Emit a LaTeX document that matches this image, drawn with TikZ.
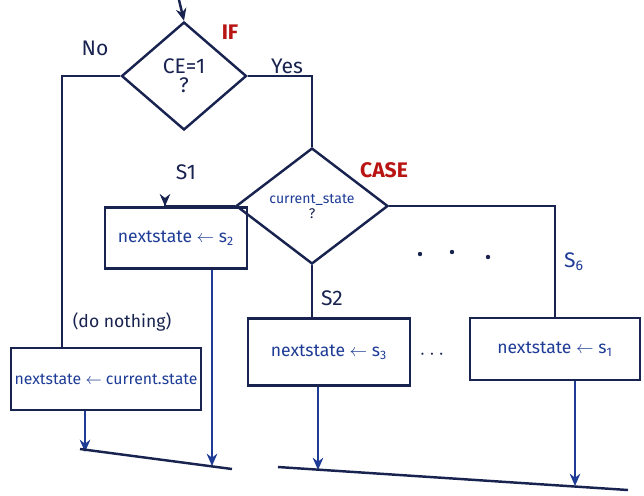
\documentclass[tikz,border=0pt]{standalone}
\usepackage{fontspec}
\setmainfont{Fira Sans}
\usetikzlibrary{shapes.geometric,arrows.meta}
\definecolor{ink}{RGB}{25,35,80}
\definecolor{pen}{RGB}{30,60,150}
\definecolor{marker}{RGB}{185,20,20}

\begin{document}
\begin{tikzpicture}[x=0.02cm,y=-0.02cm,line width=1.4pt,ink,
		decision/.style={draw,diamond,inner sep=0pt,align=center,font=\large},
		stmt/.style={draw,rectangle,inner sep=2pt,text=pen},
		lbl/.style={text=ink,font=\large},
		kw/.style={text=marker,font=\large\bfseries},
		flow/.style={-{Stealth[length=7pt,width=6pt]}}]
		\useasboundingbox (0,0) rectangle (644,495);
		% the two decisions
		\node[decision,minimum width=2.5cm,minimum height=2.16cm] (if) at (184,76) {CE=1\\[-3pt]?};
		\node[decision,minimum width=3.04cm,minimum height=2.32cm,font=\footnotesize] (case) at (312,206) {\textcolor{pen}{current\_state}\\[-1pt]?};
		\node[kw] at (230,32) {IF};
		\node[kw] at (384,170) {CASE};
		% the assignments
		\node[stmt,minimum width=3.76cm,minimum height=1.24cm,font=\small] (keep) at (106,379) {nextstate $\leftarrow$ current.state};
		\node[stmt,minimum width=2.84cm,minimum height=1.22cm] (nxt2) at (176,238) {nextstate $\leftarrow$ s\textsubscript{2}};
		\node[stmt,minimum width=3.24cm,minimum height=1.34cm] (nxt3) at (329,352) {nextstate $\leftarrow$ s\textsubscript{3}};
		\node[stmt,minimum width=3.4cm,minimum height=1.24cm] (nxt1) at (555,349) {nextstate $\leftarrow$ s\textsubscript{1}};
		\node[font=\large] (more) at (432,355) {$\cdots$};
		% entry and branches
		\coordinate (entry) at (179,0);
		\draw[flow] (entry) -- (if.north);
		\draw (if.west) -| (62,0 |- keep.north);
		\node[lbl] at (95,48) {No};
		\node[lbl] at (287,66) {Yes};
		\node[lbl,font=\normalsize] at (122,322) {(do nothing)};
		\draw (if.east) -| (case.north);
		\draw[flow] (case.west) -| (165,0 |- nxt2.north);
		\node[lbl] at (186,172) {S1};
		\draw (case.south) -- (case.south |- nxt3.north);
		\node[lbl] at (332,298) {S2};
		\draw (case.east) -| (nxt1.north);
		\node[lbl,text=pen] at (574,262) {S\textsubscript{6}};
		\fill (420,254) circle (2.2) (452,252) circle (2.2) (488,257) circle (2.2);
		% merging at the end
		\coordinate (e1) at (85,452);
		\coordinate (e2) at (212,466);
		\coordinate (e3) at (318,470);
		\coordinate (e4) at (575,486);
		\draw[pen,flow] (85,0 |- keep.south) -- (e1);
		\draw[pen,flow] (212,0 |- nxt2.south) -- (e2);
		\draw[pen,flow] (318,0 |- nxt3.south) -- (e3);
		\draw[pen,flow] (575,0 |- nxt1.south) -- (e4);
		\draw (80,449) -- (232,469);
		\draw (278,467) -- (628,490);
	\end{tikzpicture}
\end{document}
